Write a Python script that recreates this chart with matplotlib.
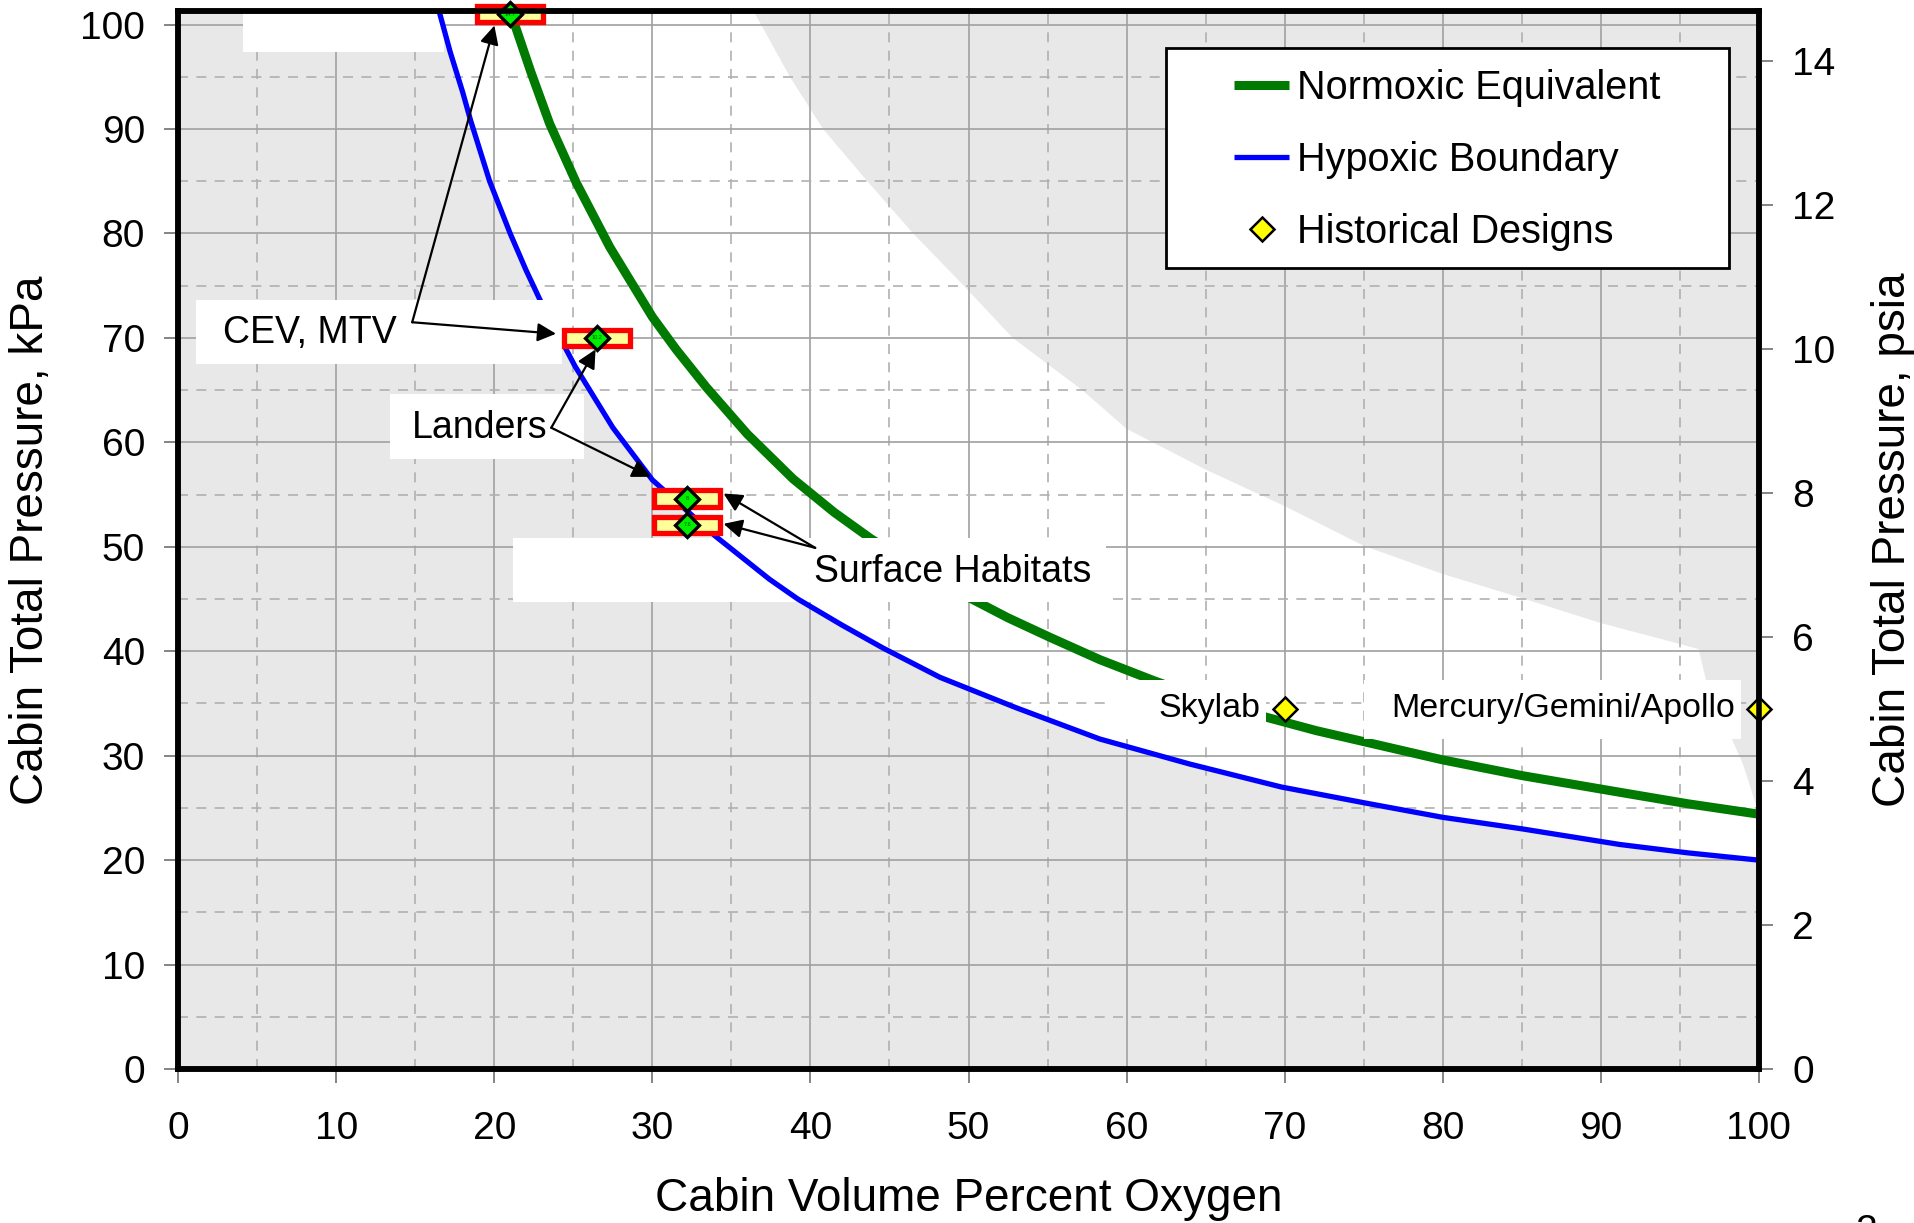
import numpy as np
import matplotlib
matplotlib.use("Agg")
import matplotlib.pyplot as plt
from matplotlib.patches import Rectangle

plt.rcParams['font.family'] = ['Liberation Sans', 'DejaVu Sans']

# --- data (x = % O2, y = kPa) ---
hypoxic_x = [16.5, 17.2, 18.0, 18.5, 19.7, 21.0, 22.0, 22.9, 25.1, 27.5, 30.0, 32.0, 34.0,
             37.4, 39.2, 42.0, 44.6, 48.2, 53.0, 58.3, 64.0, 69.8, 75.0, 80.0, 85.0,
             91.2, 95.5, 100.0]
hypoxic_y = [101.3, 97.4, 93.5, 90.8, 85.0, 80.0, 76.5, 73.6, 67.3, 61.4, 56.4, 53.7, 51.0,
             46.9, 45.0, 42.5, 40.3, 37.5, 34.6, 31.6, 29.2, 27.0, 25.5, 24.1, 23.0,
             21.5, 20.7, 20.0]

normoxic_x = [21.0, 22.3, 23.5, 25.2, 27.3, 30.0, 31.5, 33.4, 36.0, 38.9, 41.5, 43.8, 46.5,
              49.7, 52.5, 55.2, 58.3, 61.7, 65.0, 68.8, 72.0, 76.0, 80.0, 85.0, 91.2,
              95.5, 100.0]
normoxic_y = [101.3, 95.5, 90.5, 84.8, 78.7, 72.0, 68.9, 65.3, 60.8, 56.5, 53.3, 50.8, 48.2,
              45.4, 43.2, 41.3, 39.2, 37.2, 35.4, 33.7, 32.4, 31.0, 29.6, 28.1, 26.5,
              25.4, 24.4]

# upper edge of the white (acceptable) region
limit_x = [36.4, 38.7, 40.8, 43.6, 46.5, 49.7, 52.8, 57.2, 60.0, 65.0, 70.0, 75.0, 80.0,
           85.0, 90.0, 95.0, 96.2, 96.7, 98.3, 99.0, 99.6, 100.0]
limit_y = [101.3, 95.0, 90.0, 85.0, 80.0, 75.0, 70.0, 65.0, 61.3, 57.4, 53.9, 50.1, 47.4,
           45.1, 42.7, 40.7, 40.2, 37.0, 31.6, 29.2, 26.4, 24.4]

design_x = [21.0, 26.5, 32.2, 32.2]
design_y = [101.0, 70.0, 54.6, 52.1]
design_tags = ['14.7', '10.2', '8', '7.6']

hist_names = ['Skylab', 'Mercury/Gemini/Apollo']
hist_x = [70.0, 100.0]
hist_y = [34.5, 34.5]

KPA_PER_PSI = 6.895
YTOP = 101.3

fig = plt.figure(figsize=(19.15, 12.23), dpi=100)
ax = fig.add_axes([0.0931, 0.1259, 0.8253, 0.8651])
ax.set_facecolor('#e8e8e8')

# white region between hypoxic boundary and upper limit
poly_x = hypoxic_x + limit_x[::-1]
poly_y = hypoxic_y + limit_y[::-1]
ax.fill(poly_x, poly_y, color='white', lw=0, zorder=0.3)

ax.set_xlim(0, 100)
ax.set_ylim(0, YTOP)
ax.set_xticks(np.arange(0, 101, 10))
ax.set_yticks(np.arange(0, 101, 10))
ax.set_xticks(np.arange(5, 100, 10), minor=True)
ax.set_yticks(np.arange(5, 100, 10), minor=True)
ax.set_axisbelow(True)
ax.grid(which='major', color='#a0a0a0', lw=1.2, ls='-')
ax.grid(which='minor', color='#b0b0b0', lw=1.2, ls=(0, (6, 5)))
ax.tick_params(which='major', direction='out', length=10, width=1.2, color='#707070',
               labelsize=28)
ax.tick_params(axis='x', which='major', pad=20)
ax.tick_params(axis='y', which='major', pad=14)
ax.tick_params(which='minor', length=0)

for s in ax.spines.values():
    s.set_linewidth(4)

# curves
ax.plot(normoxic_x, normoxic_y, color='#007a00', lw=6.5, zorder=2,
        label='Normoxic Equivalent', solid_capstyle='butt', solid_joinstyle='round')
ax.plot(hypoxic_x, hypoxic_y, color='#0000ff', lw=3.8, zorder=3,
        label='Hypoxic Boundary', solid_capstyle='butt', solid_joinstyle='round')

# white label boxes
def wbox(x0, y0, x1, y1, z):
    ax.add_patch(Rectangle((x0, y0), x1 - x0, y1 - y0, facecolor='white',
                           edgecolor='none', zorder=z, clip_on=False))

wbox(4.1, 97.4, 16.8, 101.3, 1.5)
wbox(1.1, 67.5, 24.3, 73.6, 3.5)
wbox(13.4, 58.4, 25.7, 64.6, 3.5)
wbox(21.2, 44.7, 38.0, 50.8, 1.5)
wbox(38.0, 44.7, 58.7, 50.8, 2.5)
wbox(58.7, 31.6, 68.8, 37.2, 2.5)
wbox(75.0, 31.6, 98.9, 37.2, 2.5)

# design points (red/yellow tags with green diamonds)
for x, y in zip(design_x, design_y):
    ax.add_patch(Rectangle((x - 2.1, y - 0.8), 4.2, 1.6, facecolor='#ffff99',
                           edgecolor='#ff0000', lw=3.8, zorder=4, clip_on=False))
ax.plot(design_x, design_y, ls='none', marker='D', ms=12, mfc='#00ee00', mec='black',
        mew=2.4, zorder=5, clip_on=False)
for x, y, t in zip(design_x, design_y, design_tags):
    ax.text(x, y, t, fontsize=4, color='#005500', ha='center', va='center', zorder=6)

# historical designs
ax.plot(hist_x, hist_y, ls='none', marker='D', ms=12, mfc='#ffff00', mec='black',
        mew=1.8, zorder=5, clip_on=False, label='Historical Designs')
ax.text(hist_x[0] - 1.5, hist_y[0], hist_names[0], fontsize=24.5, ha='right',
        va='center', zorder=6)
ax.text(hist_x[1] - 1.5, hist_y[1], hist_names[1], fontsize=24.5, ha='right',
        va='center', zorder=6)

# annotations
aprops = dict(arrowstyle='-|>', color='black', lw=1.6, mutation_scale=28,
              shrinkA=0, shrinkB=0)
ax.text(2.8, 70.5, 'CEV, MTV', fontsize=27, ha='left', va='center', zorder=6)
for tgt in [(20.0, 99.9), (23.9, 70.4)]:
    ax.annotate('', xy=tgt, xytext=(14.8, 71.5), arrowprops=aprops, zorder=6)

ax.text(14.8, 61.4, 'Landers', fontsize=27, ha='left', va='center', zorder=6)
for tgt in [(26.4, 68.9), (29.9, 56.7)]:
    ax.annotate('', xy=tgt, xytext=(23.6, 61.4), arrowprops=aprops, zorder=6)

ax.text(40.2, 47.6, 'Surface Habitats', fontsize=27, ha='left', va='center', zorder=6)
for tgt in [(34.5, 55.1), (34.5, 52.2)]:
    ax.annotate('', xy=tgt, xytext=(40.3, 49.9), arrowprops=aprops, zorder=6)

# legend with a separate frame
ax.add_patch(Rectangle((0.625, 0.757), 0.356, 0.208, transform=ax.transAxes,
                       facecolor='white', edgecolor='black', lw=2, zorder=6.5))
leg = ax.legend(loc='upper left', bbox_to_anchor=(0.668, 0.945), frameon=False,
                fontsize=28.5, handlelength=1.4, handletextpad=0.2, labelspacing=0.86,
                borderpad=0, borderaxespad=0)
leg.set_zorder(7)

ax.set_xlabel('Cabin Volume Percent Oxygen', fontsize=33)
ax.set_ylabel('Cabin Total Pressure, kPa', fontsize=33)
ax.xaxis.set_label_coords(0.5, -0.102)
ax.yaxis.set_label_coords(-0.079, 0.5)

# right axis in psia
ax2 = ax.twinx()
ax2.set_ylim(0, YTOP / KPA_PER_PSI)
ax2.set_yticks(np.arange(0, 15, 2))
ax2.tick_params(direction='out', length=10, width=1.2, color='#707070', labelsize=28,
                pad=14)
for s in ax2.spines.values():
    s.set_linewidth(4)
ax2.set_ylabel('Cabin Total Pressure, psia', fontsize=33)
ax2.yaxis.set_label_coords(1.071, 0.5)

fig.text(0.975, 0.0075, '2', fontsize=28, ha='center', va='top')

fig.savefig('out.png', dpi=100)
